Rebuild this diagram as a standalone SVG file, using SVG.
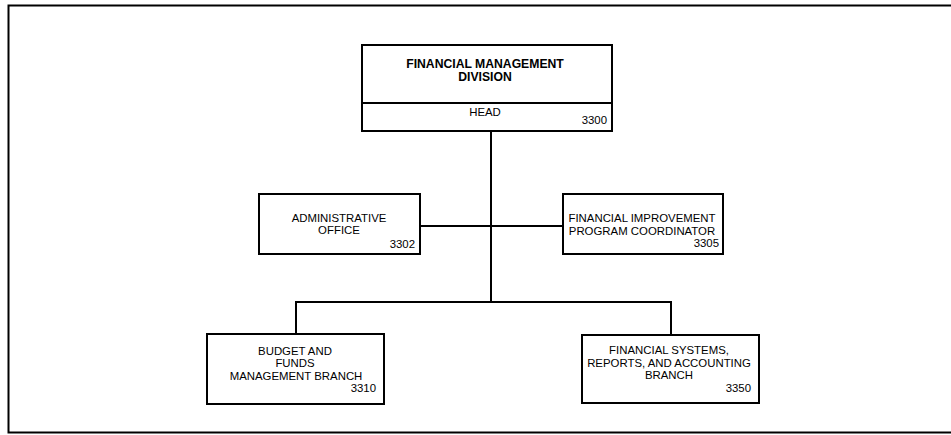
<svg xmlns="http://www.w3.org/2000/svg" width="951" height="435" viewBox="0 0 951 435">
<style>
.box{fill:#fff;stroke:#000;stroke-width:2}
.ln{fill:none;stroke:#000;stroke-width:2}
text{font-family:"Liberation Sans",Arial,sans-serif;font-size:11.4px;fill:#000}
.c{text-anchor:middle}
.r{text-anchor:end}
.b{font-weight:bold;font-size:12.2px}
</style>
<rect width="951" height="435" fill="#fff"/>
<path class="ln" d="M960 5.5 H8.5 V432.5 H960"/>
<g id="connectors">
<path class="ln" d="M491 131 V302"/>
<path class="ln" d="M420 226 H563"/>
<path class="ln" d="M296 334 V302 H671 V335"/>
</g>
<g id="fmd">
<rect class="box" x="362" y="45" width="250" height="86"/>
<line class="ln" x1="362" y1="103" x2="612" y2="103"/>
<text class="c b" x="485" y="68">FINANCIAL MANAGEMENT</text>
<text class="c b" x="485" y="81">DIVISION</text>
<text class="c" x="485" y="116">HEAD</text>
<text class="r" x="607" y="124">3300</text>
</g>
<g id="admin">
<rect class="box" x="259" y="194" width="161" height="60"/>
<text class="c" x="339" y="222">ADMINISTRATIVE</text>
<text class="c" x="339" y="234">OFFICE</text>
<text class="r" x="415" y="248">3302</text>
</g>
<g id="fip">
<rect class="box" x="563" y="194" width="160" height="60"/>
<text class="c" x="642" y="222">FINANCIAL IMPROVEMENT</text>
<text class="c" x="642" y="235">PROGRAM COORDINATOR</text>
<text class="r" x="719" y="247">3305</text>
</g>
<g id="budget">
<rect class="box" x="207" y="334" width="177" height="70"/>
<text class="c" x="295" y="355">BUDGET AND</text>
<text class="c" x="295" y="367">FUNDS</text>
<text class="c" x="296" y="380">MANAGEMENT BRANCH</text>
<text class="r" x="376" y="392">3310</text>
</g>
<g id="fsr">
<rect class="box" x="582" y="335" width="177" height="68"/>
<text class="c" x="669" y="354">FINANCIAL SYSTEMS,</text>
<text class="c" x="669" y="367">REPORTS, AND ACCOUNTING</text>
<text class="c" x="669" y="379">BRANCH</text>
<text class="r" x="751" y="392">3350</text>
</g>
</svg>
